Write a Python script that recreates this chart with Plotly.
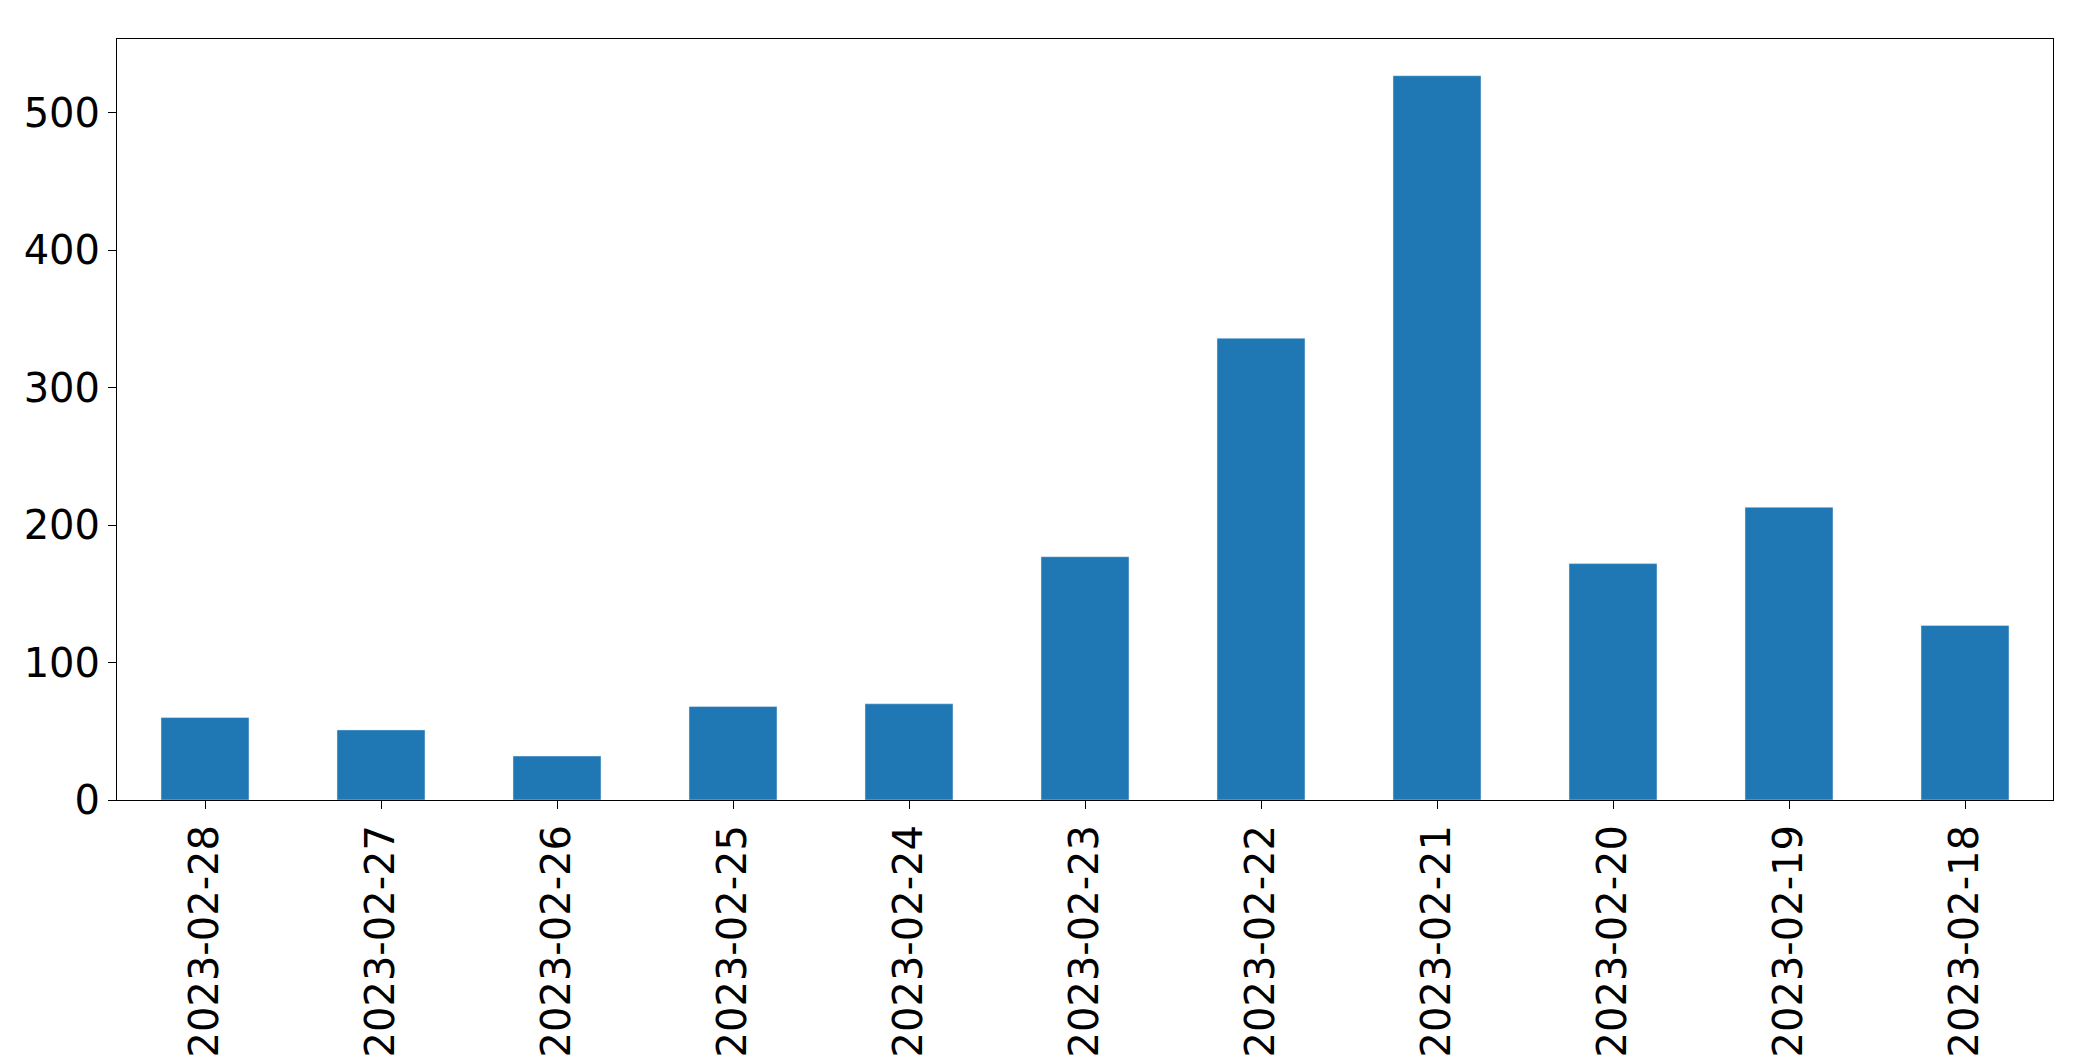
import plotly.graph_objects as go

dates = ["2023-02-28","2023-02-27","2023-02-26","2023-02-25","2023-02-24","2023-02-23",
         "2023-02-22","2023-02-21","2023-02-20","2023-02-19","2023-02-18"]
counts = [60, 51, 32, 68, 70, 177, 336, 527, 172, 213, 127]

fig = go.Figure(go.Bar(x=dates, y=counts, marker_color="#1f77b4", width=0.5))
fig.update_layout(
    width=2093, height=1061, plot_bgcolor="white", paper_bgcolor="white",
    margin=dict(l=109, r=48, t=31, b=260),
    font=dict(family="DejaVu Sans", size=40, color="black"),
    showlegend=False,
)
fig.update_xaxes(type="category", tickangle=-90, showline=True, linecolor="black", mirror=True,
                 ticks="outside", ticklen=8, tickcolor="black", range=[-0.5, 10.5])
fig.update_yaxes(range=[0, 553.7], showline=True, linecolor="black", mirror=True,
                 ticks="outside", ticklen=8, tickcolor="black", showgrid=False,
                 tickvals=[0,100,200,300,400,500], zeroline=False)
fig.write_html("out.html")
